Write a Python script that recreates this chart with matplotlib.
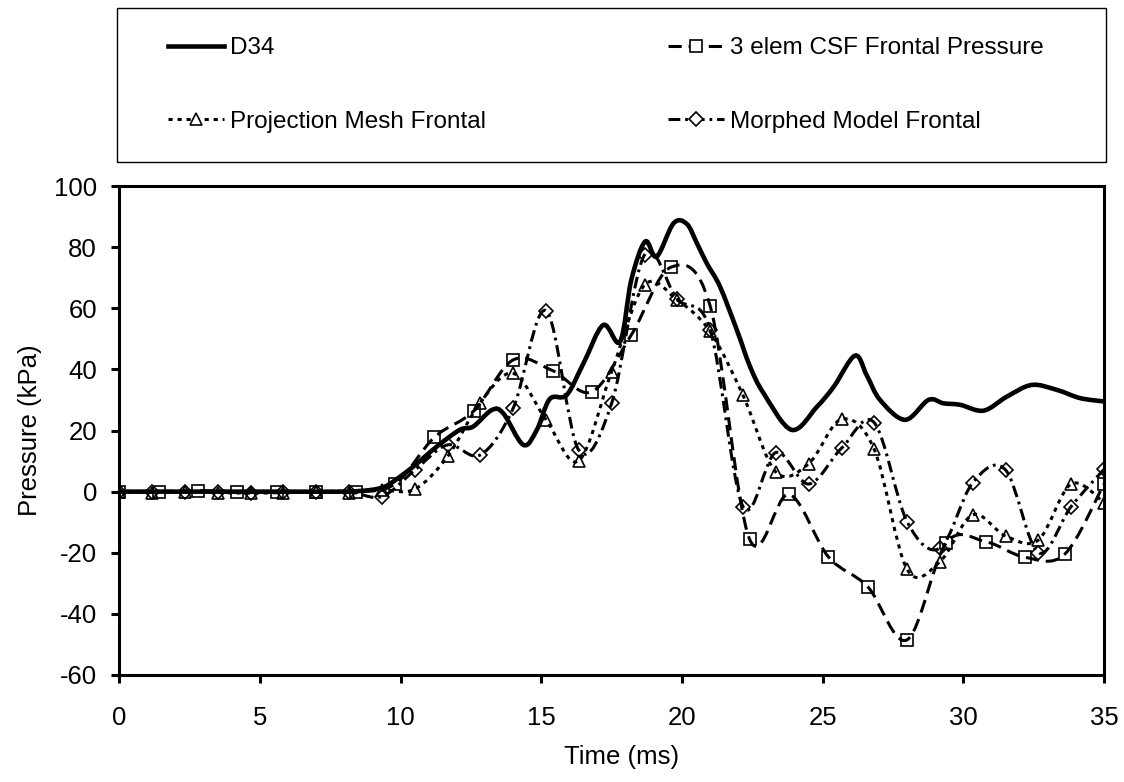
import numpy as np
import matplotlib
matplotlib.use("Agg")
import matplotlib.pyplot as plt
from matplotlib.path import Path
from matplotlib.patches import PathPatch, Rectangle
from matplotlib.lines import Line2D

plt.rcParams['font.family'] = ['Liberation Sans', 'DejaVu Sans']
plt.rcParams['axes.unicode_minus'] = False
plt.rcParams['lines.scale_dashes'] = False

# D34 measured trace (ms, kPa)
d34_t = [0, 2, 4, 6, 8, 8.9, 9.4, 9.74, 10.45, 11.28, 12.1, 12.58, 13.24, 13.65,
         14.36, 14.84, 15.3, 15.9, 16.5, 17.2, 17.8, 18.2, 18.69, 19.1, 19.7, 20.17,
         20.53, 20.88, 21.35, 21.95, 22.42, 22.9, 23.9, 24.8, 25.4, 26.15, 26.57,
         27.04, 27.93, 28.76, 29.29, 29.89, 30.72, 31.55, 32.43, 33.32, 34.15, 35]
d34_p = [0, 0, 0, 0, 0, 0.5, 1.5, 3.3, 8.2, 14.7, 20.2, 21.3, 26.7, 25.6,
         15.3, 20.2, 30.3, 31.6, 42, 54.5, 49.1, 69.3, 81.8, 76.9, 87.8, 87.6,
         81.3, 74.7, 67.1, 52.9, 40.9, 32.2, 20.2, 27.8, 34.4, 44.5, 38,
         30, 23.5, 30, 28.9, 28.4, 26.5, 31.1, 34.9, 33.3, 30.6, 29.5]

# 3 elem CSF Frontal Pressure (every 1.4 ms)
csf_t = [0, 1.4, 2.8, 4.2, 5.6, 7.0, 8.4, 9.8, 11.2, 12.6, 14.0, 15.4, 16.8,
         18.2, 19.6, 21.0, 22.4, 23.8, 25.2, 26.6, 28.0, 29.4, 30.8, 32.2, 33.6, 35.0]
csf_p = [0, 0, 0.3, 0, 0, 0, 0, 2.5, 17.8, 26.4, 43.1, 39.6, 32.7,
         51.3, 73.4, 60.8, -15.5, -0.9, -21.3, -31.1, -48.5, -16.7, -16.4, -21.5, -20.5, 2.5]

# Projection Mesh / Morphed Model (every 7/6 ms)
sim_t = [0, 1.17, 2.33, 3.5, 4.67, 5.83, 7.0, 8.17, 9.33, 10.5, 11.67, 12.83, 14.0,
         15.17, 16.33, 17.5, 18.67, 19.83, 21.0, 22.17, 23.33, 24.5, 25.67, 26.83,
         28.0, 29.17, 30.33, 31.5, 32.67, 33.83, 35.0]
proj_p = [0, -0.3, 0, -0.3, -0.5, -0.3, 0, -0.3, 0.5, 0.8, 11.5, 29.1, 38.7,
          23.5, 10.1, 39.3, 67.6, 62.7, 52.4, 31.5, 6.5, 9.1, 23.7, 13.9,
          -25.4, -22.9, -7.6, -14.5, -15.8, 2.5, -3.6]
morph_p = [0, 0, 0, 0, -0.3, 0, 0, 0, -1.6, 7, 15.3, 12.0, 27.3,
           59.2, 13.6, 28.9, 77.5, 63, 53, -4.9, 12.8, 2.5, 14.2, 22.6,
           -9.8, -18.5, 2.9, 7.1, -20, -4.9, 7.3]


def smooth_path(x, y, k=1/6.):
    # Excel-style smoothed line as cubic Bezier segments
    pts = np.column_stack([x, y]).astype(float)
    n = len(pts)
    verts = [pts[0]]
    codes = [Path.MOVETO]
    for i in range(n - 1):
        p0 = pts[max(i - 1, 0)]
        p1 = pts[i]
        p2 = pts[i + 1]
        p3 = pts[min(i + 2, n - 1)]
        verts += [p1 + (p2 - p0) * k, p2 - (p3 - p1) * k, p2]
        codes += [Path.CURVE4] * 3
    return Path(verts, codes)


ls_csf = (0, (9.5, 5))
ls_proj = (0, (3, 3.5))
ls_morph = (0, (8.5, 3.5, 2, 3.5))

fig = plt.figure(figsize=(11.24, 7.82), dpi=100)
ax = fig.add_axes([119.3/1124, 1-675/782, (1104-119.3)/1124, (675-186)/782])

ax.add_patch(PathPatch(smooth_path(d34_t, d34_p), fill=False, ec='black', lw=3.3))
ax.add_patch(PathPatch(smooth_path(csf_t, csf_p), fill=False, ec='black', lw=2.2, ls=ls_csf))
ax.add_patch(PathPatch(smooth_path(sim_t, proj_p), fill=False, ec='black', lw=2.2, ls=ls_proj))
ax.add_patch(PathPatch(smooth_path(sim_t, morph_p), fill=False, ec='black', lw=2.2, ls=ls_morph))

ax.plot(csf_t, csf_p, ls='none', marker='s', ms=9, mfc='none', mec='black', mew=1.2)
ax.plot(sim_t, proj_p, ls='none', marker='^', ms=9, mfc='none', mec='black', mew=1.2)
ax.plot(sim_t, morph_p, ls='none', marker='D', ms=7, mfc='none', mec='black', mew=1.2)

ax.set_xlim(0, 35)
ax.set_ylim(-60, 100)
ax.set_xticks(range(0, 36, 5))
ax.set_yticks(range(-60, 101, 20))
for s in ax.spines.values():
    s.set_linewidth(2.2)
ax.tick_params(direction='out', length=6, width=2.2, labelsize=18.5)
ax.tick_params(axis='x', pad=16)
ax.tick_params(axis='y', pad=10)
ax.set_xlabel('Time (ms)', fontsize=18.5)
ax.set_ylabel('Pressure (kPa)', fontsize=18.5)
ax.xaxis.set_label_coords(0.51, -0.143)
ax.yaxis.set_label_coords(-0.0785, 0.5)

# legend box
bx0, by0, bx1, by1 = 117/1124, 1-162/782, 1106/1124, 1-8/782
fig.patches.append(Rectangle((bx0, by0), bx1-bx0, by1-by0, transform=fig.transFigure,
                             fill=False, ec='black', lw=1.0))
handles = [
    Line2D([], [], color='black', lw=3.3),
    Line2D([], [], color='black', lw=2.2, ls=ls_proj, marker='^', ms=9, mfc='white', mec='black', mew=1.2),
    Line2D([], [], color='black', lw=2.2, ls=ls_csf, marker='s', ms=9, mfc='white', mec='black', mew=1.2),
    Line2D([], [], color='black', lw=2.2, ls=ls_morph, marker='D', ms=7, mfc='white', mec='black', mew=1.2),
]
labels = ['D34', 'Projection Mesh Frontal', '3 elem CSF Frontal Pressure', 'Morphed Model Frontal']
fig.legend(handles, labels, loc='center left', bbox_to_anchor=(bx0, by0, bx1-bx0, by1-by0),
           bbox_transform=fig.transFigure, ncol=2, frameon=False,
           fontsize=17.5, handlelength=2.3, handletextpad=0.25, borderpad=2.1,
           borderaxespad=0, labelspacing=2.1, columnspacing=7.5, numpoints=1)

fig.savefig('out.png', dpi=100)
